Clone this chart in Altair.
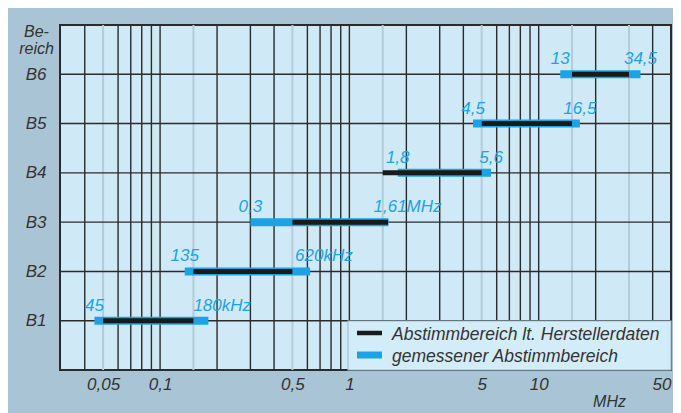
import altair as alt
import pandas as pd

# ---- data ----
bands = [1, 2, 3, 4, 5, 6]
maker_lo = [0.05, 0.15, 0.5, 1.5, 5, 15]
maker_hi = [0.15, 0.5, 1.6, 5, 15, 30]
meas_lo = [0.045, 0.135, 0.3, 1.8, 4.5, 13]
meas_hi = [0.18, 0.62, 1.61, 5.6, 16.5, 34.5]

num_band = [1, 2, 3, 4, 4, 5, 5, 6, 6]
num_val = [0.045, 0.135, 0.3, 1.8, 5.6, 4.5, 16.5, 13, 34.5]
num_txt = ["45", "135", "0,3", "1,8", "5,6", "4,5", "16,5", "13", "34,5"]

unit_band = [1, 2, 3]
unit_val = [0.18, 0.62, 1.61]
unit_txt = ["180kHz", "620kHz", "1,61MHz"]

x_ticks = [0.05, 0.1, 0.5, 1, 5, 10, 50]
grid_dark = [0.04, 0.06, 0.07, 0.08, 0.09, 0.1, 0.2, 0.3, 0.4, 0.6, 0.7, 0.8, 0.9,
             1, 2, 3, 4, 6, 7, 8, 9, 10, 20, 40]
grid_light = [0.05, 0.15, 0.5, 1.5, 5, 15, 30]

MAKER = "Abstimmbereich lt. Herstellerdaten"
MEAS = "gemessener Abstimmbereich"

FONT = "Liberation Sans"
BLUE = "#1ba3e6"
BLACK = "#1a1a1a"
TXT = "#333333"

ranges = pd.DataFrame(
    [{"band": b, "type": MEAS, "lo": lo, "hi": hi} for b, lo, hi in zip(bands, meas_lo, meas_hi)]
    + [{"band": b, "type": MAKER, "lo": lo, "hi": hi} for b, lo, hi in zip(bands, maker_lo, maker_hi)]
)
nums = pd.DataFrame({"band": num_band, "val": num_val, "txt": num_txt})
units = pd.DataFrame({"band": unit_band, "val": unit_val, "txt": unit_txt})
gd = pd.DataFrame({"v": grid_dark})
gl = pd.DataFrame({"v": grid_light})
gh = pd.DataFrame({"b": bands})
one = pd.DataFrame({"k": [0]})

xscale = alt.Scale(type="log", domain=[0.0296, 50], nice=False)
yscale = alt.Scale(domain=[0, 7], nice=False)

xaxis = alt.Axis(
    values=x_ticks, labelExpr="replace(toString(datum.value), '.', ',')",
    grid=False, ticks=False, domain=False, labelOverlap=False, labelFlush=True,
    labelFont=FONT, labelFontSize=17, labelFontStyle="italic", labelColor=TXT,
    labelPadding=6, title="MHz", titleFont=FONT, titleFontSize=16,
    titleFontStyle="italic", titleFontWeight="normal", titleColor=TXT,
    titleX=549, titleY=36, titleAlign="center", titleBaseline="alphabetic",
)
yaxis = alt.Axis(
    values=bands, labelExpr="'B' + datum.value",
    grid=False, ticks=False, domain=False,
    labelFont=FONT, labelFontSize=17, labelFontStyle="italic", labelColor=TXT,
    labelPadding=14, title=["Be-", "reich"], titleAngle=0, titleX=-24, titleY=11,
    titleAlign="center", titleBaseline="alphabetic", titleLineHeight=17,
    titleFont=FONT, titleFontSize=16, titleFontStyle="italic",
    titleFontWeight="normal", titleColor=TXT,
)

light_rules = alt.Chart(gl).mark_rule(color="#b3ccd9", strokeWidth=2).encode(
    x=alt.X("v:Q", scale=xscale, axis=xaxis)
)
dark_rules = alt.Chart(gd).mark_rule(color="#2b2b2b", strokeWidth=1.4).encode(
    x=alt.X("v:Q", scale=xscale)
)
h_rules = alt.Chart(gh).mark_rule(color="#2b2b2b", strokeWidth=1.4).encode(
    y=alt.Y("b:Q", scale=yscale, axis=yaxis)
)

meas_bars = alt.Chart(ranges).transform_filter(alt.datum.type == MEAS).mark_rule(
    strokeCap="butt", strokeWidth=8, color=BLUE
).encode(x=alt.X("lo:Q", scale=xscale), x2="hi:Q", y=alt.Y("band:Q", scale=yscale))
maker_bars = alt.Chart(ranges).transform_filter(alt.datum.type == MAKER).mark_rule(
    strokeCap="butt", strokeWidth=5, color=BLACK
).encode(x=alt.X("lo:Q", scale=xscale), x2="hi:Q", y=alt.Y("band:Q", scale=yscale))

num_text = alt.Chart(nums).mark_text(
    font=FONT, fontSize=17, fontStyle="italic", color=BLUE, align="center", baseline="alphabetic", dy=-10
).encode(x=alt.X("val:Q", scale=xscale), y=alt.Y("band:Q", scale=yscale), text="txt:N")
unit_text = alt.Chart(units).mark_text(
    font=FONT, fontSize=17, fontStyle="italic", color=BLUE, align="left", baseline="alphabetic", dy=-10, dx=-15
).encode(x=alt.X("val:Q", scale=xscale), y=alt.Y("band:Q", scale=yscale), text="txt:N")

# ---- legend (drawn as a box in the lower right of the plot) ----
leg_box = alt.Chart(one).mark_rect(fill="#d3ecf9", stroke="#a3bfce", strokeWidth=1.2).encode(
    x=alt.value(288), x2=alt.value(611), y=alt.value(296), y2=alt.value(345)
)
leg_black = alt.Chart(one).mark_rule(color=BLACK, strokeWidth=4.5, strokeCap="butt").encode(
    x=alt.value(297), x2=alt.value(322), y=alt.value(308)
)
leg_blue = alt.Chart(one).mark_rule(color=BLUE, strokeWidth=7, strokeCap="butt").encode(
    x=alt.value(297), x2=alt.value(322), y=alt.value(330)
)
leg_t1 = alt.Chart(one).mark_text(
    text=MAKER, font=FONT, fontSize=17.5, fontStyle="italic", color=TXT, align="left", baseline="middle"
).encode(x=alt.value(332), y=alt.value(310))
leg_t2 = alt.Chart(one).mark_text(
    text=MEAS, font=FONT, fontSize=17.5, fontStyle="italic", color=TXT, align="left", baseline="middle"
).encode(x=alt.value(332), y=alt.value(332))

chart = alt.layer(
    light_rules, dark_rules, h_rules, meas_bars, maker_bars, num_text, unit_text,
    leg_box, leg_black, leg_blue, leg_t1, leg_t2
).properties(
    width=611, height=345,
    autosize=alt.AutoSizeParams(type="none"),
    padding={"left": 52, "top": 17, "right": 2, "bottom": 43},
    background="#a9c5d5",
).configure_view(
    fill="#cfe9f7", stroke="#2b2b2b", strokeWidth=2
)

chart.save("out.html", embed_options={"renderer": "svg", "actions": False})
